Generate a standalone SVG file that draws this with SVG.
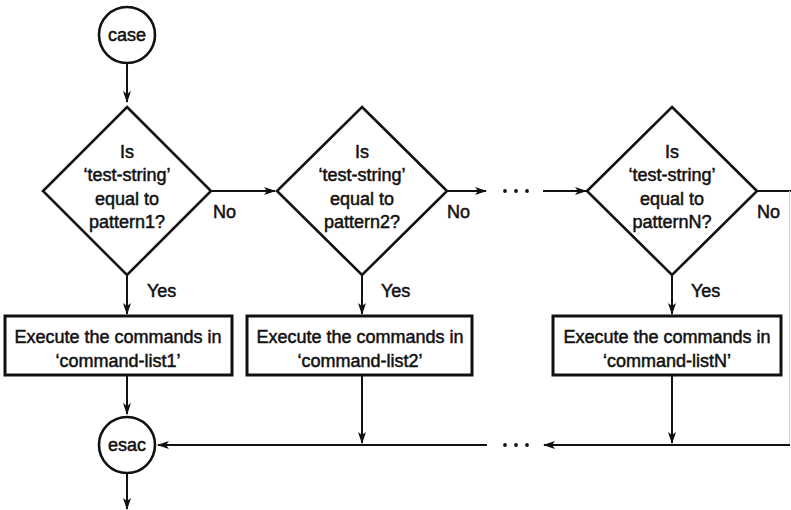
<svg xmlns="http://www.w3.org/2000/svg" width="791" height="510" viewBox="0 0 791 510">
  <style>
    .shape { fill: #fff; stroke: #111; stroke-width: 2.6; }
    .box { fill: #fff; stroke: #111; stroke-width: 3; }
    .wire { fill: none; stroke: #111; stroke-width: 2; }
    .label { font-family: "Liberation Sans", Arial, sans-serif; font-size: 18px; fill: #111; stroke: #111; stroke-width: 0.5; text-anchor: middle; }
    .side { text-anchor: start; }
    .dot { fill: #111; }
  </style>
  <defs>
    <marker id="arrow" viewBox="0 0 12 10" refX="11" refY="5" markerWidth="12" markerHeight="10" markerUnits="userSpaceOnUse" orient="auto">
      <path d="M0,1 L12,5 L0,9 L3,5 Z" fill="#111"/>
    </marker>
  </defs>

  <rect width="791" height="510" fill="#fff"/>

  <!-- connectors -->
  <g id="connectors">
    <line class="wire" x1="127" y1="63" x2="127" y2="102" marker-end="url(#arrow)"/>
    <line class="wire" x1="127" y1="275" x2="127" y2="314" marker-end="url(#arrow)"/>
    <line class="wire" x1="362" y1="275" x2="362" y2="314" marker-end="url(#arrow)"/>
    <line class="wire" x1="672" y1="275" x2="672" y2="314" marker-end="url(#arrow)"/>

    <line class="wire" x1="211" y1="191" x2="275" y2="191" marker-end="url(#arrow)"/>
    <line class="wire" x1="447" y1="191" x2="486" y2="191" marker-end="url(#arrow)"/>
    <circle class="dot" cx="505" cy="191" r="1.9"/>
    <circle class="dot" cx="516" cy="191" r="1.9"/>
    <circle class="dot" cx="527" cy="191" r="1.9"/>
    <line class="wire" x1="543" y1="191" x2="586" y2="191" marker-end="url(#arrow)"/>
    <line class="wire" x1="757" y1="191" x2="791" y2="191"/>
    <line x1="789.5" y1="191" x2="789.5" y2="445" stroke="#d4d4d4" stroke-width="1.2"/>

    <line class="wire" x1="127" y1="375" x2="127" y2="414" marker-end="url(#arrow)"/>
    <line class="wire" x1="362" y1="375" x2="362" y2="443" marker-end="url(#arrow)"/>
    <line class="wire" x1="672" y1="375" x2="672" y2="443" marker-end="url(#arrow)"/>

    <line class="wire" x1="487" y1="445" x2="158" y2="445" marker-end="url(#arrow)"/>
    <circle class="dot" cx="505" cy="445" r="1.9"/>
    <circle class="dot" cx="516" cy="445" r="1.9"/>
    <circle class="dot" cx="527" cy="445" r="1.9"/>
    <line class="wire" x1="790" y1="445" x2="544" y2="445" marker-end="url(#arrow)"/>

    <line class="wire" x1="127" y1="473" x2="127" y2="509" marker-end="url(#arrow)"/>

    <text class="label side" x="147" y="297">Yes</text>
    <text class="label side" x="381" y="297">Yes</text>
    <text class="label side" x="691" y="297">Yes</text>
    <text class="label side" x="213" y="218">No</text>
    <text class="label side" x="447" y="218">No</text>
    <text class="label side" x="757" y="218">No</text>
  </g>

  <!-- start / end terminals -->
  <g id="case">
    <circle class="shape" cx="127" cy="35" r="28"/>
    <text class="label" x="127" y="41">case</text>
  </g>
  <g id="esac">
    <circle class="shape" cx="127" cy="445" r="28"/>
    <text class="label" x="127" y="451">esac</text>
  </g>

  <!-- decisions -->
  <g id="test1">
    <polygon class="shape" points="127,107 211,191 127,275 43,191"/>
    <text class="label" x="127" y="158">Is</text>
    <text class="label" x="127" y="181">‘test-string’</text>
    <text class="label" x="127" y="205">equal to</text>
    <text class="label" x="127" y="228">pattern1?</text>
  </g>
  <g id="test2">
    <polygon class="shape" points="362,107 447,191 362,275 277,191"/>
    <text class="label" x="362" y="158">Is</text>
    <text class="label" x="362" y="181">‘test-string’</text>
    <text class="label" x="362" y="205">equal to</text>
    <text class="label" x="362" y="228">pattern2?</text>
  </g>
  <g id="testN">
    <polygon class="shape" points="672,107 757,191 672,275 587,191"/>
    <text class="label" x="672" y="158">Is</text>
    <text class="label" x="672" y="181">‘test-string’</text>
    <text class="label" x="672" y="205">equal to</text>
    <text class="label" x="672" y="228">patternN?</text>
  </g>

  <!-- actions -->
  <g id="run1">
    <rect class="box" x="5" y="316" width="227" height="59"/>
    <text class="label" x="118" y="343">Execute the commands in</text>
    <text class="label" x="118" y="367">‘command-list1’</text>
  </g>
  <g id="run2">
    <rect class="box" x="247" y="316" width="225" height="59"/>
    <text class="label" x="360" y="343">Execute the commands in</text>
    <text class="label" x="360" y="367">‘command-list2’</text>
  </g>
  <g id="runN">
    <rect class="box" x="553" y="316" width="228" height="59"/>
    <text class="label" x="667" y="343">Execute the commands in</text>
    <text class="label" x="667" y="367">‘command-listN’</text>
  </g>
</svg>
